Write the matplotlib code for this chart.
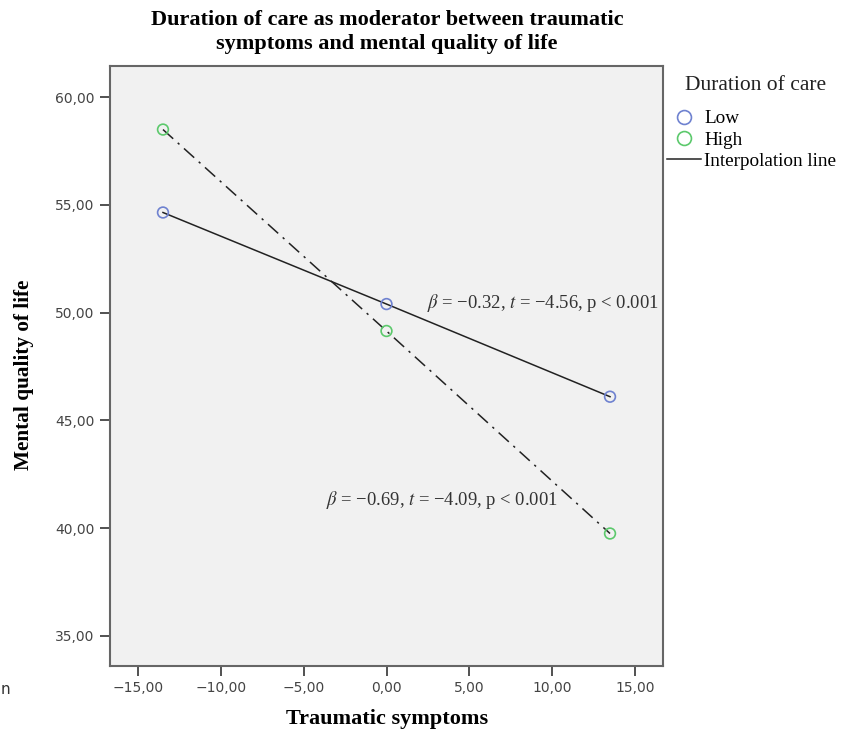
import matplotlib
matplotlib.use("Agg")
import matplotlib.pyplot as plt
from matplotlib.lines import Line2D
from matplotlib.ticker import FuncFormatter

# data
x_levels = [-13.5, 0.0, 13.5]
low_care = [54.65, 50.4, 46.1]
high_care = [58.5, 49.15, 39.75]
x_ticks = [-15, -10, -5, 0, 5, 10, 15]
y_ticks = [35, 40, 45, 50, 55, 60]

low_note = r"$\beta$ = −0.32, $t$ = −4.56, p < 0.001"
high_note = r"$\beta$ = −0.69, $t$ = −4.09, p < 0.001"

plt.rcParams['mathtext.fontset'] = 'stix'
serif = 'Liberation Serif'
blue = '#6f82d0'
green = '#5cc96c'

W, H = 852, 732
fig = plt.figure(figsize=(W / 100, H / 100), dpi=100)
fig.patch.set_facecolor('white')

# axes box in pixel coordinates
left, right, top, bottom = 110, 663, 66, 666
ax = fig.add_axes([left / W, (H - bottom) / H, (right - left) / W, (bottom - top) / H])
ax.set_facecolor('#f1f1f1')

ax.plot(x_levels, low_care, color='#222222', lw=1.1, ls='-', zorder=2)
ax.plot(x_levels, high_care, color='#222222', lw=1.1, ls=(0, (9, 4, 1.5, 4)), zorder=2)
ax.scatter(x_levels, low_care, s=60, facecolors='none', edgecolors=blue, linewidths=1.2, zorder=3)
ax.scatter(x_levels, high_care, s=60, facecolors='none', edgecolors=green, linewidths=1.2, zorder=3)

ax.set_xlim(-16.7, 16.7)
ax.set_ylim(33.6, 61.45)
ax.set_xticks(x_ticks)
ax.set_yticks(y_ticks)
fmt = FuncFormatter(lambda v, p: ('%.2f' % v).replace('.', ',').replace('-', '−'))
ax.xaxis.set_major_formatter(fmt)
ax.yaxis.set_major_formatter(fmt)
ax.tick_params(direction='out', length=7, width=1.2, color='#333333',
               labelsize=10, labelcolor='#444444', pad=4)
for lab in ax.get_xticklabels() + ax.get_yticklabels():
    lab.set_fontfamily('DejaVu Sans')
for sp in ax.spines.values():
    sp.set_color('#666666')
    sp.set_linewidth(1.5)

ax.text(2.45, 50.45, low_note, fontsize=13.4, family=serif, color='#333333', va='center', ha='left')
ax.text(-3.65, 41.3, high_note, fontsize=13.4, family=serif, color='#333333', va='center', ha='left')

fig.text(387 / W, 1 - 32 / H, 'Duration of care as moderator between traumatic\nsymptoms and mental quality of life',
         ha='center', va='center', fontsize=16, fontweight='bold', family=serif, linespacing=1.25)
fig.text(387 / W, 1 - 719 / H, 'Traumatic symptoms', ha='center', va='center',
         fontsize=16, fontweight='bold', family=serif)
fig.text(24 / W, 1 - 375 / H, 'Mental quality of life', ha='center', va='center', rotation=90,
         fontsize=15.3, fontweight='bold', family=serif)
fig.text(1 / W, 1 - 690 / H, 'n', ha='left', va='center', fontsize=11, color='#333333')

# legend: title as its own text, entries below it
fig.text(756 / W, 1 - 86 / H, 'Duration of care', ha='center', va='center',
         fontsize=15.5, family=serif, color='#222222')
handles = [
    Line2D([], [], ls='none', marker='o', markersize=10, markerfacecolor='none',
           markeredgecolor=blue, markeredgewidth=1.2),
    Line2D([], [], ls='none', marker='o', markersize=10, markerfacecolor='none',
           markeredgecolor=green, markeredgewidth=1.2),
    Line2D([], [], color='#222222', lw=1.1),
]
leg = fig.legend(handles, ['Low', 'High', 'Interpolation line'],
                 loc='upper left', bbox_to_anchor=(667 / W, 1 - 110 / H),
                 frameon=False, prop={'family': serif, 'size': 13.8},
                 handlelength=1.75, handletextpad=0.2, labelspacing=0.2,
                 borderaxespad=0, borderpad=0.0)

fig.savefig('out.png', dpi=100)
